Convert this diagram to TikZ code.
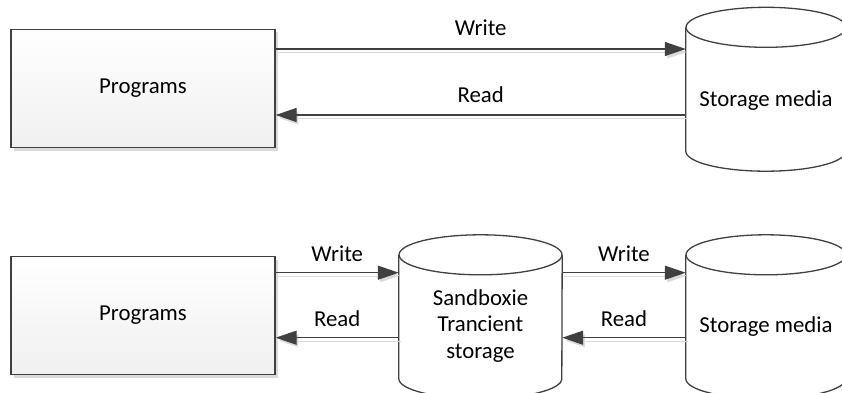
\documentclass[tikz,border=0pt]{standalone}
\usepackage{fontspec}
\setmainfont{Carlito}
\usetikzlibrary{arrows.meta,calc}
\definecolor{ln}{HTML}{404040}
\definecolor{shd}{HTML}{DADADA}
\tikzset{
  every node/.style={font=\fontsize{22.8}{26.7}\selectfont, text=black},
  progbox/.style={draw=ln, line width=1.3pt, top color=white, bottom color=gray!12,
    minimum width=264pt, minimum height=118.5pt, inner sep=0pt,
    preaction={fill=shd, transform canvas={shift={(3pt,-3pt)}}}},
  cylnode/.style={inner sep=0pt, minimum width=#1, minimum height=123.5pt},
  cylline/.style={draw=ln, line width=1.3pt, fill=white},
  arr/.style={draw=ln, line width=1.3pt, -{Triangle[length=21pt,width=14pt]},
    preaction={draw=shd, transform canvas={shift={(2pt,-3pt)}}}},
  lbl/.style={inner sep=0pt},
  ctext/.style={inner sep=0pt, align=center}
}
\newcommand\drawcyl[3]{%
  \draw[cylline] (#1.north west) -- (#1.south west)
    arc[start angle=180, end angle=360, x radius=#2, y radius=#3]
    -- (#1.north east);
  \draw[cylline] (#1.north) ellipse[x radius=#2, y radius=#3];
}
\begin{document}
\begin{tikzpicture}[x=1pt,y=-1pt]
\useasboundingbox (0,0) rectangle (842,392);
\clip (0,0) rectangle (842,392);
% top row
\node[progbox] (p1) at (143,88.5) {Programs};
\node[cylnode=160pt] (c1) at (766,89.25) {};
\drawcyl{c1}{80pt}{20pt}
\node[ctext, anchor=base] (t1) at (766,106.7) {Storage media};
\coordinate (w1) at (0,49);
\coordinate (r1) at (0,115);
\draw[arr] (p1.east |- w1) -- (c1.west |- w1) node[lbl, midway, yshift=21pt] (lw1) {Write};
\draw[arr] (c1.west |- r1) -- (p1.east |- r1) node[lbl, midway, yshift=20pt] (lr1) {Read};
% bottom row
\node[progbox, minimum height=118pt] (p2) at (143,315.5) {Programs};
\node[cylnode=163pt] (s2) at (480.5,316.75) {};
\drawcyl{s2}{81.5pt}{20pt}
\node[ctext] (t2) at (480.5,326) {Sandboxie\\Trancient\\storage};
\node[cylnode=160pt] (c2) at (766,316.75) {};
\drawcyl{c2}{80pt}{20pt}
\node[ctext, anchor=base] (t3) at (766,332) {Storage media};
\coordinate (w2) at (0,272.7);
\coordinate (r2) at (0,337.7);
\draw[arr] (p2.east |- w2) -- (s2.west |- w2) node[lbl, midway, yshift=19pt] (lw2) {Write};
\draw[arr] (s2.west |- r2) -- (p2.east |- r2) node[lbl, midway, yshift=19pt] (lr2) {Read};
\draw[arr] (s2.east |- w2) -- (c2.west |- w2) node[lbl, midway, yshift=19pt] (lw3) {Write};
\draw[arr] (c2.west |- r2) -- (s2.east |- r2) node[lbl, midway, yshift=19pt] (lr3) {Read};
\end{tikzpicture}
\end{document}
